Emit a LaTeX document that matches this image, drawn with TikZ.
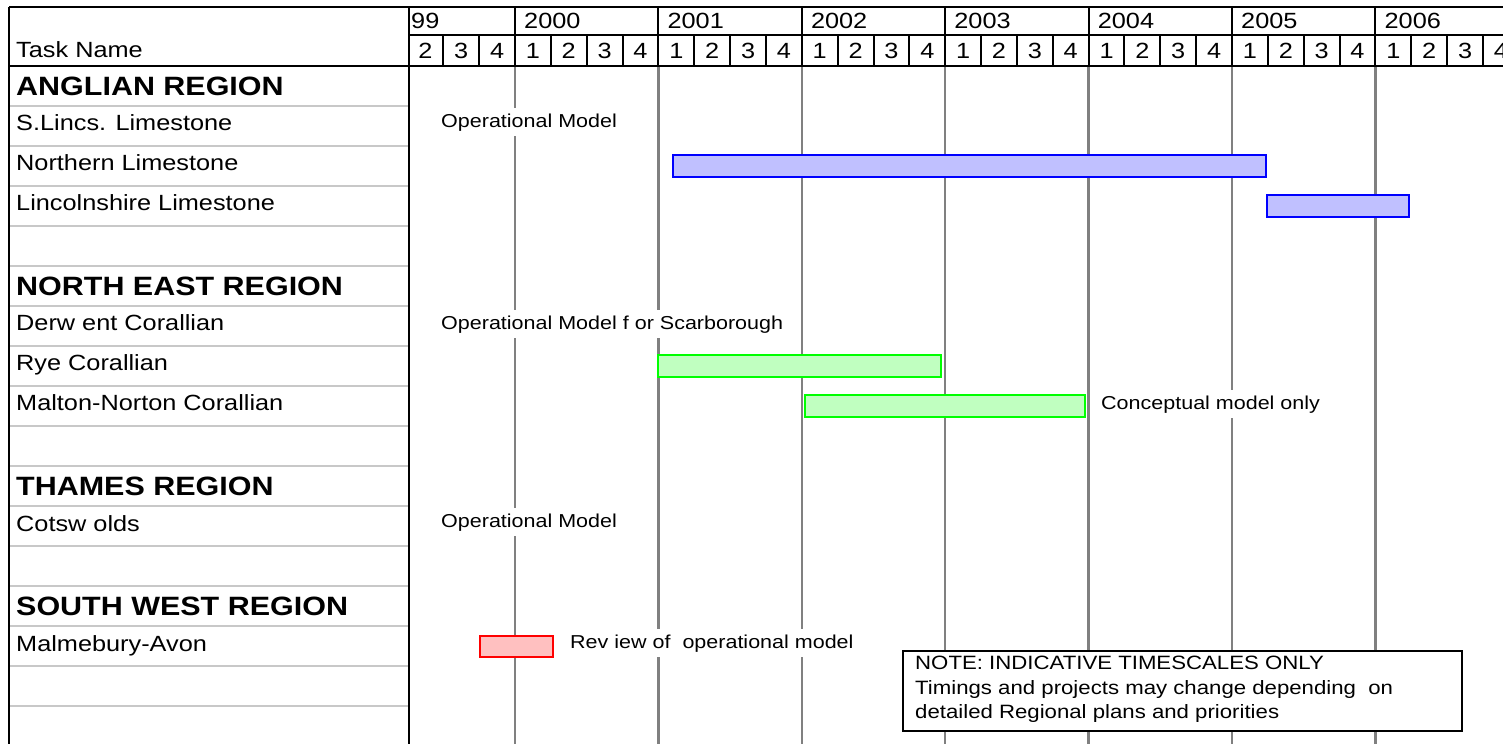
\documentclass[tikz,border=0pt]{standalone}
\usepackage{fontspec}
\setmainfont[FakeStretch=1.15]{Liberation Sans}
\definecolor{gridgray}{HTML}{808080}
\definecolor{rowgray}{HTML}{C8C8C8}
\definecolor{blueline}{HTML}{0000FF}
\definecolor{bluefill}{HTML}{C0C0FF}
\definecolor{greenline}{HTML}{00FF00}
\definecolor{greenfill}{HTML}{C0FFC0}
\definecolor{redline}{HTML}{FF0000}
\definecolor{redfill}{HTML}{FFC0C0}
\tikzset{
  hdrtext/.style={font=\fontsize{22}{26}\selectfont, inner sep=0pt},
  tasktext/.style={font=\fontsize{22}{26}\selectfont, anchor=base west, inner sep=0pt},
  regiontext/.style={font=\fontsize{26.5}{30}\selectfont\bfseries, anchor=base west, inner sep=0pt},
  bartext/.style={font=\fontsize{18.7}{22}\selectfont, anchor=base west, fill=white, inner xsep=2pt, inner ysep=5pt},
  notetext/.style={font=\fontsize{19.3}{22}\selectfont, anchor=base west, inner sep=0pt},
  yearline/.style={draw=gridgray, line width=2.5pt},
  rowline/.style={draw=rowgray, line width=2pt},
  frameline/.style={draw=black, line width=2pt},
  bluebar/.style={draw=blueline, fill=bluefill, line width=2pt},
  greenbar/.style={draw=greenline, fill=greenfill, line width=2pt},
  redbar/.style={draw=redline, fill=redfill, line width=2pt},
  notebox/.style={draw=black, fill=white, line width=2pt, inner sep=0pt, anchor=north west},
}
\begin{document}
\begin{tikzpicture}[x=1pt, y=-1pt]
\useasboundingbox (0,0) rectangle (1503,744);
\clip (0,0) rectangle (1503,744);
\fill[white] (0,0) rectangle (1503,744);

% year gridlines in timeline area
\foreach \yr in {0,...,6} {
  \draw[yearline] ({515+143.4*\yr},66) -- ({515+143.4*\yr},744);
}

% bars
\draw[bluebar]  (673,155) rectangle (1266,177);
\draw[bluebar]  (1267,195) rectangle (1409,217);
\draw[greenbar] (658,355) rectangle (941,377);
\draw[greenbar] (805,395) rectangle (1085,417);
\draw[redbar]   (480,636) rectangle (553,657);

% bar labels
\node[bartext] (l1) at (439,127) {Operational Model};
\node[bartext] (l2) at (439,329) {Operational Model f or Scarborough};
\node[bartext] (l3) at (1099,409) {Conceptual model only};
\node[bartext] (l4) at (439,527) {Operational Model};
\node[bartext] (l5) at (568,648) {Rev iew of\ \ operational model};

% note box
\node[notebox, minimum width=559pt, minimum height=80pt] (note) at (902,650) {};
\node[notetext] (n1) at (915,669) {NOTE: INDICATIVE TIMESCALES ONLY};
\node[notetext] (n2) at (915,694) {Timings and projects may change depending\ \ on};
\node[notetext] (n3) at (915,718) {detailed Regional plans and priorities};

% task column row separators
\foreach \k in {1,...,16} {
  \draw[rowline] (10,{65.5+40.05*\k}) -- (408,{65.5+40.05*\k});
}

% task names
\node[regiontext] (r0)  at (16,{65.5+40.05*0+29.5})  {ANGLIAN REGION};
\node[tasktext]   (r1)  at (16,{65.5+40.05*1+25})  {S.Lincs. Limestone};
\node[tasktext]   (r2)  at (16,{65.5+40.05*2+25})  {Northern Limestone};
\node[tasktext]   (r3)  at (16,{65.5+40.05*3+25})  {Lincolnshire Limestone};
\node[regiontext] (r5)  at (16,{65.5+40.05*5+29.5})  {NORTH EAST REGION};
\node[tasktext]   (r6)  at (16,{65.5+40.05*6+25})  {Derw ent Corallian};
\node[tasktext]   (r7)  at (16,{65.5+40.05*7+25})  {Rye Corallian};
\node[tasktext]   (r8)  at (16,{65.5+40.05*8+25})  {Malton-Norton Corallian};
\node[regiontext] (r10) at (16,{65.5+40.05*10+29.5}) {THAMES REGION};
\node[tasktext]   (r11) at (16,{65.5+40.05*11+25}) {Cotsw olds};
\node[regiontext] (r13) at (16,{65.5+40.05*13+29.5}) {SOUTH WEST REGION};
\node[tasktext]   (r14) at (16,{65.5+40.05*14+25}) {Malmebury-Avon};

% header
\node[hdrtext, anchor=base west] (y99) at (411,28) {99};
\foreach \yr [count=\i from 0] in {2000,2001,2002,2003,2004,2005,2006} {
  \node[hdrtext, anchor=base west] (y\yr) at ({524+143.4*\i},28) {\yr};
  \draw[frameline] ({515+143.4*\i},7) -- ({515+143.4*\i},65.5);
}
\foreach \j in {-3,...,28} {
  \pgfmathtruncatemacro\q{Mod(\j,4)+1}
  \node[hdrtext, anchor=base] (q\j) at ({515+35.85*(\j+0.5)},58) {\q};
  \draw[frameline] ({515+35.85*\j},35) -- ({515+35.85*\j},65.5);
}
% keep task-name header cell clean
\fill[white] (0,8) rectangle (408,64.5);
\node[hdrtext, anchor=base west] (taskname) at (16,57) {Task Name};

% frame lines
\draw[frameline] (9,7) -- (1503,7);
\draw[frameline] (409,35) -- (1503,35);
\draw[frameline] (9,65.5) -- (1503,65.5);
\draw[frameline] (9,7) -- (9,744);
\draw[frameline] (409,7) -- (409,744);
\end{tikzpicture}
\end{document}
